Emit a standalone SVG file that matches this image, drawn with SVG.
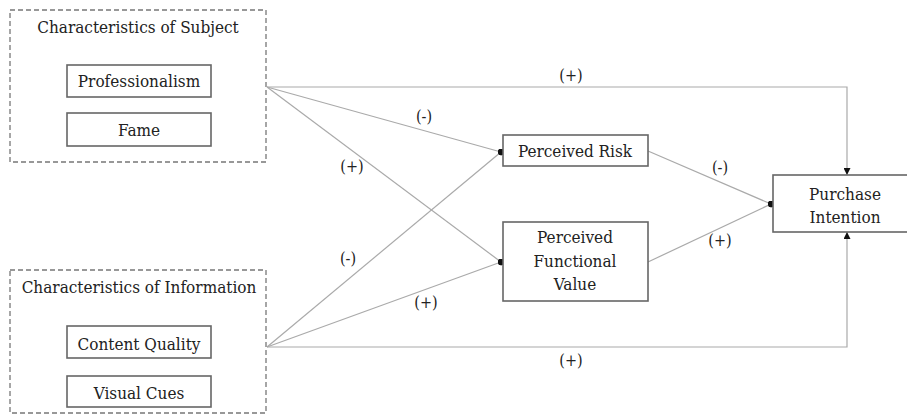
<svg xmlns="http://www.w3.org/2000/svg" width="907" height="417" viewBox="0 0 907 417">
<style>
text{fill:#222;text-anchor:middle;font-family:'DejaVu Serif Condensed','DejaVu Serif',serif;font-stretch:condensed}
.t{font-size:17px}
.l{font-size:16px}
.grp{fill:none;stroke:#777;stroke-width:1.3;stroke-dasharray:5,3}
.box{fill:#fff;stroke:#666;stroke-width:1.6}
.c{fill:none;stroke:#aaa;stroke-width:1.2}
</style>
<defs>
<marker id="dot" viewBox="0 0 10 10" refX="5" refY="5" markerWidth="7" markerHeight="7" markerUnits="userSpaceOnUse"><circle cx="5" cy="5" r="4.5" fill="#111"/></marker>
<marker id="arr" viewBox="0 0 10 10" refX="10" refY="5" markerWidth="7" markerHeight="7" markerUnits="userSpaceOnUse" orient="auto"><path d="M0,0 L10,5 L0,10 z" fill="#111"/></marker>
</defs>
<g id="connectors">
<polyline class="c" points="267,87 847,87 847,175" marker-end="url(#arr)"/>
<line class="c" x1="267" y1="87" x2="501" y2="152" marker-end="url(#dot)"/>
<line class="c" x1="267" y1="87" x2="501" y2="262" marker-end="url(#dot)"/>
<line class="c" x1="267" y1="347" x2="501" y2="152" marker-end="url(#dot)"/>
<line class="c" x1="267" y1="347" x2="501" y2="262" marker-end="url(#dot)"/>
<polyline class="c" points="267,347 847,347 847,232" marker-end="url(#arr)"/>
<line class="c" x1="648" y1="151" x2="771" y2="204" marker-end="url(#dot)"/>
<line class="c" x1="648" y1="262" x2="771" y2="204" marker-end="url(#dot)"/>
<text class="l" x="571" y="81">(+)</text>
<text class="l" x="424" y="122">(-)</text>
<text class="l" x="352" y="172">(+)</text>
<text class="l" x="348" y="264">(-)</text>
<text class="l" x="426" y="308">(+)</text>
<text class="l" x="571" y="366">(+)</text>
<text class="l" x="720" y="173">(-)</text>
<text class="l" x="720" y="246">(+)</text>
</g>
<g id="subject">
<rect class="grp" x="10" y="10" width="256" height="152"/>
<text class="t" x="138" y="33">Characteristics of Subject</text>
</g>
<g id="professionalism">
<rect class="box" x="67" y="65" width="144" height="32"/>
<text class="t" x="139" y="87">Professionalism</text>
</g>
<g id="fame">
<rect class="box" x="67" y="113" width="144" height="33"/>
<text class="t" x="139" y="136">Fame</text>
</g>
<g id="information">
<rect class="grp" x="10" y="270" width="256" height="143"/>
<text class="t" x="139" y="293">Characteristics of Information</text>
</g>
<g id="content-quality">
<rect class="box" x="67" y="326" width="144" height="32"/>
<text class="t" x="139" y="350">Content Quality</text>
</g>
<g id="visual-cues">
<rect class="box" x="67" y="376" width="144" height="31"/>
<text class="t" x="139" y="399">Visual Cues</text>
</g>
<g id="perceived-risk">
<rect class="box" x="503" y="135" width="145" height="31"/>
<text class="t" x="575" y="157">Perceived Risk</text>
</g>
<g id="perceived-functional-value">
<rect class="box" x="503" y="222" width="145" height="79"/>
<text class="t" x="575" y="243">Perceived</text>
<text class="t" x="575" y="267">Functional</text>
<text class="t" x="575" y="290">Value</text>
</g>
<g id="purchase-intention">
<rect class="box" x="773" y="175" width="145" height="57"/>
<text class="t" x="845" y="200">Purchase</text>
<text class="t" x="845" y="223">Intention</text>
</g>
</svg>
